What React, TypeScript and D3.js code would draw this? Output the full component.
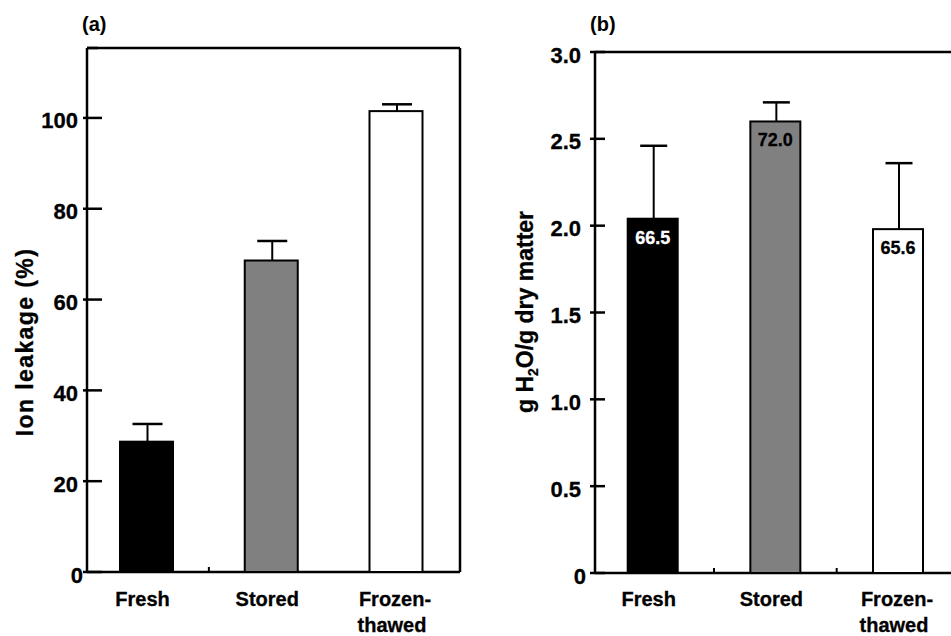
import React from 'react';
import * as d3 from 'd3';

const categories = ['Fresh', 'Stored', 'Frozen-thawed'];
const fills = ['#000000', '#808080', '#ffffff'];

// panel (a): ion leakage (%)
const leakage = [28.7, 68.6, 101.5];
const leakageErr = [3.9, 4.3, 1.5];
const leakageTicks = [0, 20, 40, 60, 80, 100];

// panel (b): g H2O / g dry matter, with water content (%) printed in the bars
const water = [2.04, 2.6, 1.98];
const waterErr = [0.42, 0.11, 0.38];
const waterPct = ['66.5', '72.0', '65.6'];
const waterTicks = [0, 0.5, 1.0, 1.5, 2.0, 2.5, 3.0];

const FONT = '"Liberation Sans", Arial, Helvetica, sans-serif';

type PanelProps = {
  tag: string;
  values: number[];
  errs: number[];
  ticks: number[];
  tickFmt: (v: number) => string;
  yMax: number;
  left: number;
  right: number;
  top: number;
  bottom: number;
  firstX: number;
  lastX: number;
  barW: number;
  capW: number;
  tickOut: number;
  tickIn: number;
  labelGap: number;
  boundaryTicks: number; // how many category boundary ticks on the x axis
  closed: boolean;
  inBar?: string[];
  inBarColor?: string[];
  yLabel: React.ReactNode;
  yLabelX: number;
  yLabelY: number;
  labelSpacing?: number;
};

const Panel = (p: PanelProps) => {
  const y = d3.scaleLinear().domain([0, p.yMax]).range([p.bottom, p.top]);
  const x = d3.scalePoint<string>().domain(categories).range([p.firstX, p.lastX]);
  const step = x.step();

  return (
    <g fontFamily={FONT} fontWeight="bold" stroke="none">
      <text x={p.left - 5} y={31} fontSize={20}>{p.tag}</text>

      {/* frame */}
      <line x1={p.left} x2={p.left} y1={p.top} y2={p.bottom} stroke="#000" strokeWidth={2.5} />
      <line x1={p.left} x2={p.right} y1={p.bottom} y2={p.bottom} stroke="#000" strokeWidth={2.5} />
      <line x1={p.left} x2={p.right} y1={p.top} y2={p.top} stroke="#000" strokeWidth={2.5} />
      {p.closed && (
        <line x1={p.right} x2={p.right} y1={p.top} y2={p.bottom} stroke="#000" strokeWidth={2.5} />
      )}

      {/* y ticks */}
      {p.ticks.map((t) => (
        <g key={t}>
          <line x1={p.left - p.tickOut} x2={p.left + p.tickIn} y1={y(t)} y2={y(t)} stroke="#000" strokeWidth={2.5} />
          <text
            x={p.left - p.labelGap + (t === 0 ? 5 : 0)}
            y={y(t) + 3}
            textAnchor="end"
            dominantBaseline="central"
            fontSize={22}
            stroke="#000"
            strokeWidth={0.3}
          >
            {p.tickFmt(t)}
          </text>
        </g>
      ))}
      {p.closed && (
        <line x1={p.left} x2={p.left + 11} y1={p.top} y2={p.top} stroke="#000" strokeWidth={2.5} />
      )}

      {/* x boundary ticks */}
      {categories.slice(0, p.boundaryTicks).map((c) => (
        <line key={c} x1={x(c)! + step / 2} x2={x(c)! + step / 2} y1={p.bottom} y2={p.bottom - 5} stroke="#000" strokeWidth={2} />
      ))}

      {/* bars */}
      {categories.map((c, i) => {
        const cx = x(c)!;
        const yTop = y(p.values[i]);
        const yErr = y(p.values[i] + p.errs[i]);
        return (
          <g key={c}>
            <rect x={cx - p.barW / 2} y={yTop} width={p.barW} height={p.bottom - yTop} fill={fills[i]} stroke="#000" strokeWidth={2} />
            <line x1={cx + 1} x2={cx + 1} y1={yTop} y2={yErr} stroke="#000" strokeWidth={2} />
            <line x1={cx + 1 - p.capW} x2={cx + 1 + p.capW} y1={yErr} y2={yErr} stroke="#000" strokeWidth={2.5} />
            {p.inBar && (
              <text
                x={cx}
                y={yTop + 25}
                textAnchor="middle"
                fontSize={18}
                fill={p.inBarColor![i]}
                stroke={p.inBarColor![i]}
                strokeWidth={0.3}
              >
                {p.inBar[i]}
              </text>
            )}
          </g>
        );
      })}

      {/* category labels */}
      {categories.map((c) => {
        const lines = c === 'Frozen-thawed' ? ['Frozen-', 'thawed'] : [c];
        return (
          <text key={c} y={606} textAnchor="middle" fontSize={20} stroke="#000" strokeWidth={0.3}>
            {lines.map((l, j) => (
              <tspan key={l} x={x(c)! - (j === 0 && lines.length > 1 ? 1 : 4)} dy={j === 0 ? 0 : 26}>{l}</tspan>
            ))}
          </text>
        );
      })}

      {/* y label */}
      <text
        transform={`translate(${p.yLabelX},${p.yLabelY}) rotate(-90)`}
        textAnchor="middle"
        fontSize={23}
        letterSpacing={p.labelSpacing ?? 0}
        stroke="#000"
        strokeWidth={0.3}
      >
        {p.yLabel}
      </text>
    </g>
  );
};

export default function App() {
  return (
    <svg width={951} height={636} style={{ position: 'absolute', left: 0, top: 0, background: '#fff' }}>
      <rect width={951} height={636} fill="#fff" />
      <Panel
        tag="(a)"
        values={leakage}
        errs={leakageErr}
        ticks={leakageTicks}
        tickFmt={(v) => String(v)}
        yMax={115.4}
        left={87}
        right={460}
        top={48}
        bottom={572}
        firstX={146.5}
        lastX={396}
        barW={53}
        capW={15}
        tickOut={4}
        tickIn={15}
        labelGap={9}
        boundaryTicks={1}
        closed={true}
        yLabel="Ion leakage (%)"
        yLabelX={33}
        yLabelY={342}
        labelSpacing={1.4}
      />
      <Panel
        tag="(b)"
        values={water}
        errs={waterErr}
        ticks={waterTicks}
        tickFmt={(v) => (v === 0 ? '0' : v.toFixed(1))}
        yMax={3.0}
        left={595}
        right={975}
        top={52}
        bottom={573}
        firstX={652.7}
        lastX={898}
        barW={50}
        capW={13.5}
        tickOut={5}
        tickIn={10}
        labelGap={14}
        boundaryTicks={2}
        closed={false}
        inBar={waterPct}
        inBarColor={['#fff', '#000', '#000']}
        yLabel={
          <>
            g H<tspan fontSize={14} dy={5}>2</tspan>
            <tspan dy={-5}>O/g dry matter</tspan>
          </>
        }
        yLabelX={533}
        yLabelY={312}
      />
    </svg>
  );
}
